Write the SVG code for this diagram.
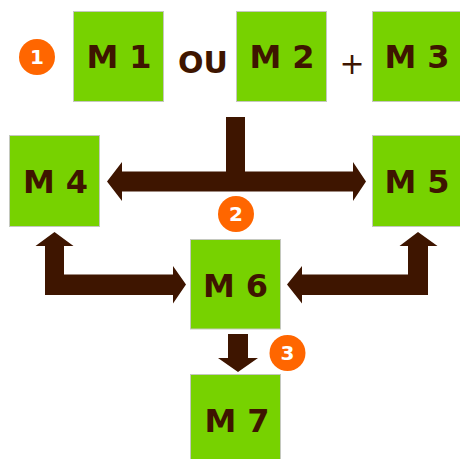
<svg xmlns="http://www.w3.org/2000/svg" width="460" height="459" viewBox="0 0 460 459">
<style>
.box{fill:#77d200;stroke:#c4c8be;stroke-width:1}
.lbl{font-family:"DejaVu Sans",sans-serif;font-weight:bold;font-size:32px;fill:#3e1500;text-anchor:middle}
.badge{fill:#ff6600}
.num{font-family:"DejaVu Sans",sans-serif;font-weight:bold;font-size:20px;fill:#ffffff;text-anchor:middle}
.arrow{fill:#3e1500}
</style>
<rect width="460" height="459" fill="#ffffff"/>
<g id="connectors">
<path class="arrow" d="M226,117 H245 V171.5 H353 V162 L366,181.5 L353,201 V191.5 H122 V201 L107,181.5 L122,162 V171.5 H226 Z"/>
<path class="arrow" d="M45,295 V246 H35.5 L54.5,232 L73.5,246 H64 V274.5 H173 V266 L186,284.5 L173,303.5 V295 Z"/>
<path class="arrow" d="M428,295 V246 H437.5 L418,232 L399.5,246 H408 V274.5 H302 V266 L287,284.5 L302,303.5 V295 Z"/>
<path class="arrow" d="M228,334 H248 V358 H258 L238,372 L218,358 H228 Z"/>
</g>
<g id="M1"><rect class="box" x="73.5" y="11.5" width="90" height="90"/><text class="lbl" x="119" y="68">M 1</text></g>
<g id="ou"><text class="lbl" x="203" y="73" style="font-size:30px">OU</text></g>
<g id="M2"><rect class="box" x="236.5" y="11.5" width="90" height="90"/><text class="lbl" x="282" y="68">M 2</text></g>
<g id="plus"><text class="lbl" x="352" y="74" style="font-size:30px;font-weight:normal">+</text></g>
<g id="M3"><rect class="box" x="372.5" y="11.5" width="90" height="90"/><text class="lbl" x="417" y="68">M 3</text></g>
<g id="M4"><rect class="box" x="9.5" y="135.5" width="90" height="91"/><text class="lbl" x="55.5" y="193">M 4</text></g>
<g id="M5"><rect class="box" x="372.5" y="135.5" width="90" height="91"/><text class="lbl" x="417" y="193">M 5</text></g>
<g id="M6"><rect class="box" x="190.5" y="239.5" width="90" height="89.5"/><text class="lbl" x="235.5" y="296.5">M 6</text></g>
<g id="M7"><rect class="box" x="190.5" y="374.5" width="90" height="90"/><text class="lbl" x="237" y="431.5">M 7</text></g>
<g id="badge1"><circle class="badge" cx="37" cy="57" r="18"/><text class="num" x="37" y="64">1</text></g>
<g id="badge2"><circle class="badge" cx="236" cy="214" r="18"/><text class="num" x="236" y="221">2</text></g>
<g id="badge3"><circle class="badge" cx="287.5" cy="353" r="18"/><text class="num" x="287.5" y="360">3</text></g>
</svg>
